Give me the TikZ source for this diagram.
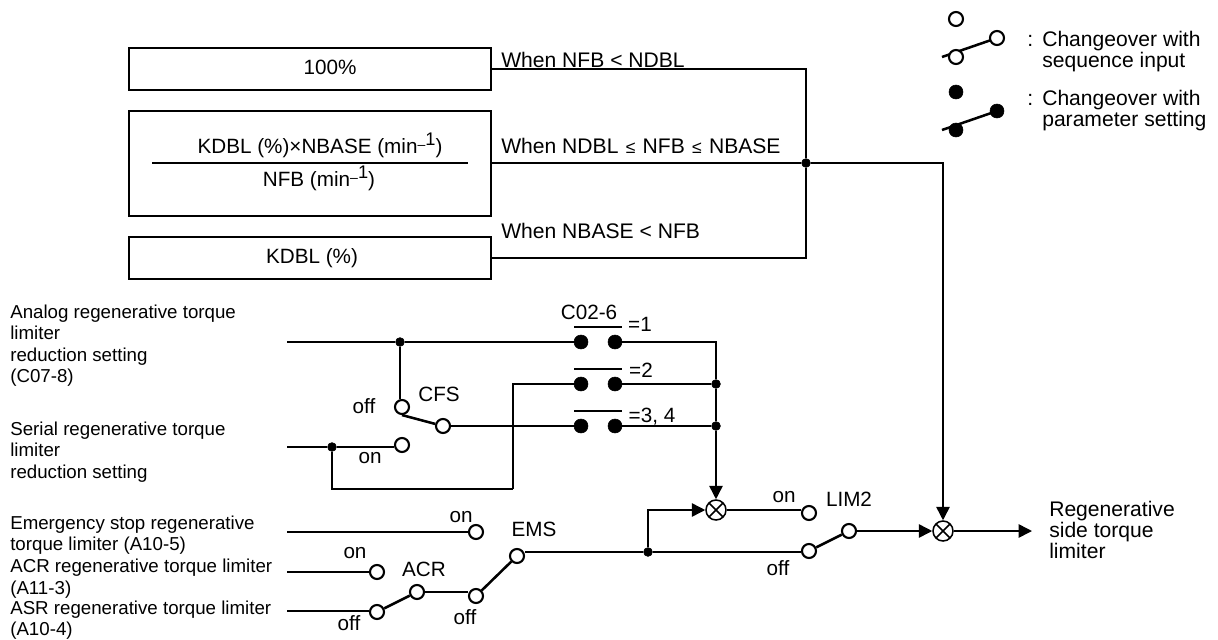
\documentclass[tikz,border=0pt]{standalone}
\usepackage{fontspec}
\setmainfont{Liberation Sans}
\usetikzlibrary{arrows.meta,calc}
\newcommand{\mininv}{min{\fontsize{10}{10}\selectfont\raisebox{2.5pt}{–}\raisebox{5.5pt}{\fontsize{13}{13}\selectfont 1}}}
\newcommand{\smallleq}{{\hspace{1pt}\fontsize{12.5}{12.5}\selectfont≤\hspace{1pt}}}
\tikzset{
    wire/.style={line width=1.1pt},
    armline/.style={line width=1.8pt},
    sigarrow/.style={wire, -{Triangle[length=9.5pt,width=9.5pt]}},
    valuebox/.style={draw, line width=1.2pt, minimum width=9.05cm, inner sep=0pt},
    opencontact/.style={draw, circle, fill=white, line width=1.5pt, minimum size=0.35cm, inner sep=0pt},
    fullcontact/.style={draw, circle, fill=black, minimum size=0.35cm, inner sep=0pt},
    junction/.style={draw, circle, fill=black, minimum size=0.22cm, inner sep=0pt},
    multnode/.style={draw, circle, fill=white, line width=1.1pt, minimum size=0.5cm, inner sep=0pt, path picture={\draw[wire] (path picture bounding box.center) +(-7,-7) -- +(7,7) +(-7,7) -- +(7,-7);}},
    infotext/.style={align=left, anchor=west, inner sep=0pt, font=\fontsize{15}{15.2}\selectfont},
    sidetext/.style={align=left, anchor=west, inner sep=0pt, font=\fontsize{13.3}{15.2}\selectfont}
}
\begin{document}
\begin{tikzpicture}[x=0.025cm, y=-0.025cm, every node/.style={font=\fontsize{14.7}{15.2}\selectfont}]
    \useasboundingbox (0,0) rectangle (1218,639);

    \node[valuebox, minimum height=1.05cm] (box100) at (310,69) {};
    \node[valuebox, minimum height=2.625cm] (boxfrac) at (310,163.5) {};
    \node[valuebox, minimum height=1.05cm] (boxkdbl) at (310,258) {};
    \node (txt100) at (330,67) {100\%};
    \node (txtkdbl) at (312,258) {KDBL (\%)};
    \node (txtnum) at (320,145) {KDBL (\%)×NBASE (\mininv)};
    \node (txtden) at (319,178) {NFB (\mininv)};
    \coordinate (fracl) at (152,163);
    \coordinate (fracr) at (468,163);
    \draw[wire] (fracl) -- (fracr);

    \node[infotext] (whena) at (501,60) {When NFB < NDBL};
    \node[infotext] (whenb) at (501,146) {When NDBL \smallleq{} NFB \smallleq{} NBASE};
    \node[infotext] (whenc) at (501,231) {When NBASE < NFB};
    \node[junction] (jbus) at (806,163) {};
    \node[multnode] (multout) at (943,531) {};
    \draw[wire] (box100.east) -| (jbus);
    \draw[wire] (boxkdbl.east) -| (jbus);
    \draw[wire, line width=1.4pt] (boxfrac.east |- jbus) -- (jbus);
    \draw[sigarrow] (jbus) -| (multout);

    \node[sidetext] (lblanalog) at (10,345.5) {Analog regenerative torque\\limiter\\reduction setting\\(C07-8)};
    \node[sidetext] (lblserial) at (10,452) {Serial regenerative torque\\limiter\\reduction setting};
    \node[sidetext] (lblemerg) at (10,535) {Emergency stop regenerative\\torque limiter (A10-5)};
    \node[sidetext] (lblacr) at (10,578.5) {ACR regenerative torque limiter\\(A11-3)};
    \node[sidetext] (lblasr) at (10,620) {ASR regenerative torque limiter\\(A10-4)};
    \coordinate (inanalog) at (287,342);
    \coordinate (inserial) at (287,447);
    \coordinate (inemerg) at (287,532);
    \coordinate (inacr) at (287,572);
    \coordinate (inasr) at (287,611);

    \node[fullcontact] (conal) at (581,342) {};
    \node[fullcontact] (conar) at (615,342) {};
    \node[fullcontact] (conbl) at (581,384) {};
    \node[fullcontact] (conbr) at (615,384) {};
    \node[fullcontact] (concl) at (581,426) {};
    \node[fullcontact] (concr) at (615,426) {};
    \coordinate (barla) at (574,327);
    \coordinate (barra) at (622,327);
    \coordinate (barlb) at (574,369);
    \coordinate (barrb) at (622,369);
    \coordinate (barlc) at (574,411);
    \coordinate (barrc) at (622,411);
    \draw[armline] (barla) -- (barra);
    \draw[armline] (barlb) -- (barrb);
    \draw[armline] (barlc) -- (barrc);
    \node (txtc02) at (589,312) {C02-6};
    \node (txteqa) at (640,324) {=1};
    \node (txteqb) at (641,370) {=2};
    \node (txteqc) at (652,417) {=3, 4};

    \node[junction] (janalog) at (400,342) {};
    \node[junction] (jserial) at (332,447) {};
    \node[junction] (jb) at (716,384) {};
    \node[junction] (jc) at (716,426) {};
    \node[multnode] (multon) at (716,510) {};
    \node[opencontact] (cfsoff) at (402,407) {};
    \node[opencontact] (cfson) at (402,445) {};
    \node[opencontact] (cfspiv) at (443,426) {};
    \node (txtcfs) at (439,394) {CFS};
    \node (txtcfsoff) at (364,406) {off};
    \node (txtcfson) at (370,458) {on};
    \coordinate (lowbend) at (513,489);

    \draw[wire] (inanalog) -- (janalog);
    \draw[wire] (janalog) -- (conal);
    \draw[wire] (janalog) -- (janalog |- cfsoff.north);
    \draw[wire] (inserial) -- (jserial);
    \draw[wire] (jserial) -- (jserial -| cfson.west);
    \draw[wire] (jserial) |- (lowbend);
    \draw[wire] (lowbend) |- (conbl);
    \draw[armline] (cfsoff.south) -- (cfspiv);
    \draw[wire] (cfspiv) -- (concl);
    \draw[wire] (conar) -| (jb);
    \draw[wire] (conbr) -- (jb);
    \draw[wire] (concr) -- (jc);
    \draw[wire] (jb) -- (jc);
    \draw[sigarrow] (jc) -- (multon);

    \node[opencontact] (emson) at (476,532) {};
    \node[opencontact] (emsoff) at (476,596) {};
    \node[opencontact] (emspiv) at (517,556) {};
    \node[opencontact] (acron) at (377,572) {};
    \node[opencontact] (acroff) at (377,612) {};
    \node[opencontact] (acrpiv) at (417,592) {};
    \node[opencontact] (limon) at (809,513) {};
    \node[opencontact] (limoff) at (809,551) {};
    \node[opencontact] (limpiv) at (849,531) {};
    \node[junction] (jems) at (648,552) {};
    \node (txtemson) at (461,517) {on};
    \node (txtems) at (534,529) {EMS};
    \node (txtacron) at (355,553) {on};
    \node (txtacr) at (424,569) {ACR};
    \node (txtacroff) at (349,623) {off};
    \node (txtemsoff) at (465,617) {off};
    \node (txtlimon) at (784,497) {on};
    \node (txtlim) at (849,499) {LIM2};
    \node (txtlimoff) at (778,568) {off};

    \draw[wire] (inemerg) -- (emson);
    \draw[wire] (inacr) -- (acron);
    \draw[wire] (inasr) -- (inasr -| acroff.west);
    \draw[armline] (acroff) -- (acrpiv);
    \draw[wire] (acrpiv) -- (acrpiv -| emsoff.west);
    \draw[armline] (emsoff) -- (emspiv);
    \draw[wire] (jems -| emspiv.east) -- (jems);
    \draw[wire] (jems) -- (jems -| limoff.west);
    \draw[sigarrow] (jems) |- (multon);
    \draw[wire] (multon) -- (multon -| limon.west);
    \draw[armline] (limoff) -- (limpiv);
    \draw[sigarrow] (limpiv) -- (multout);
    \coordinate (outend) at (1032,531);
    \draw[sigarrow] (multout) -- (outend);
    \node[infotext] (lblout) at (1049,530) {Regenerative\\side torque\\limiter};

    \coordinate (keytaila) at (942,57);
    \coordinate (keyenda) at (997,38);
    \draw[armline] (keytaila) -- (keyenda);
    \node[opencontact] (keyopena) at (956,19) {};
    \node[opencontact] (keyopenb) at (956,57) {};
    \node[opencontact] (keyopenc) at (keyenda) {};
    \coordinate (keytailb) at (942,130);
    \coordinate (keyendb) at (997,111);
    \draw[armline] (keytailb) -- (keyendb);
    \node[fullcontact] (keyfulla) at (956,92) {};
    \node[fullcontact] (keyfullb) at (956,130) {};
    \node[fullcontact] (keyfullc) at (keyendb) {};
    \node[infotext] (keycolona) at (1027,41) {:};
    \node[infotext] (keycolonb) at (1027,100) {:};
    \node[infotext] (keytexta) at (1042,51.5) {Changeover with\\sequence input};
    \node[infotext] (keytextb) at (1042,110.5) {Changeover with\\parameter setting};
\end{tikzpicture}
\end{document}
